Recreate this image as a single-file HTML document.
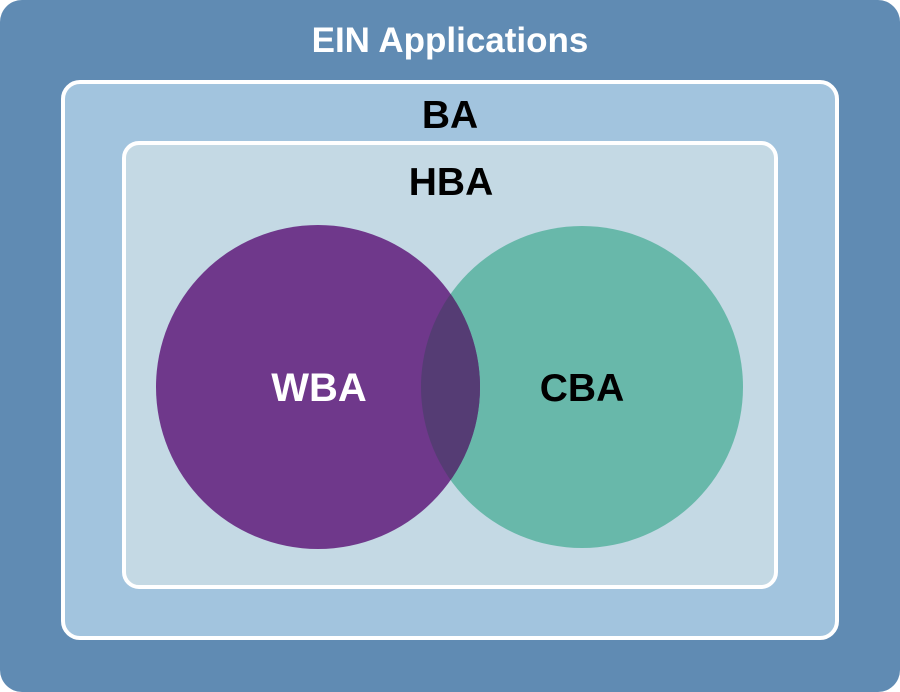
<!DOCTYPE html>
<html><head><style>html,body{margin:0;padding:0;width:900px;height:692px;overflow:hidden;background:#fff}</style></head>
<body>
<svg width="900" height="692" viewBox="0 0 900 692" xmlns="http://www.w3.org/2000/svg" font-family="Liberation Sans, sans-serif" font-weight="bold">
<defs><clipPath id="cp"><circle cx="318" cy="387" r="162"/></clipPath></defs>
<rect x="0" y="0" width="900" height="692" rx="22" fill="#608bb3"/>
<rect x="63" y="82" width="774" height="556" rx="17" fill="#a2c4de" stroke="#fff" stroke-width="4"/>
<rect x="124" y="143" width="652" height="444" rx="15" fill="#c4d9e4" stroke="#fff" stroke-width="4"/>
<circle cx="582" cy="387" r="161" fill="#68b8aa"/>
<circle cx="318" cy="387" r="162" fill="#6f388b"/>
<circle cx="582" cy="387" r="161" fill="#553c74" clip-path="url(#cp)"/>
<text x="450" y="52" text-anchor="middle" font-size="35" fill="#fff">EIN Applications</text>
<text x="450" y="128" text-anchor="middle" font-size="39" fill="#000">BA</text>
<text x="451" y="195" text-anchor="middle" font-size="39" fill="#000">HBA</text>
<text x="319" y="401" text-anchor="middle" font-size="40" fill="#fff">WBA</text>
<text x="582" y="401" text-anchor="middle" font-size="39" fill="#000">CBA</text>
</svg>
</body></html>
